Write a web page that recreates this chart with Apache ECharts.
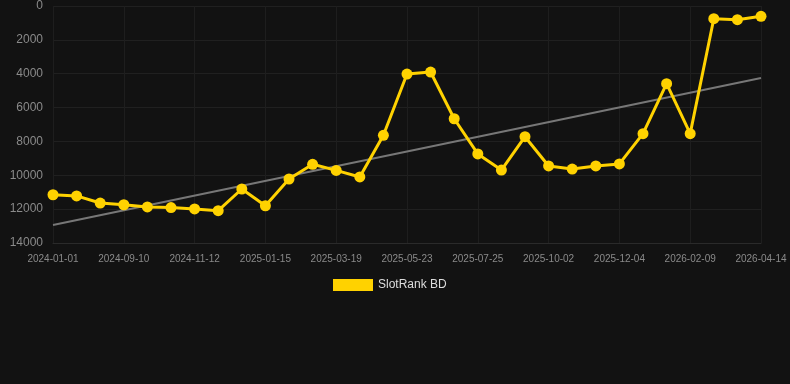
<!DOCTYPE html>
<html>
<head>
<meta charset="utf-8">
<script src="https://cdn.jsdelivr.net/npm/echarts@6/dist/echarts.min.js"></script>
<style>
  html, body { margin: 0; padding: 0; background: #121212; }
  #rank_chart { width: 790px; height: 384px; }
</style>
</head>
<body>
<div id="rank_chart"></div>
<script>
//*************** data ***************
var dates = [
    '2024-01-01', '2024-07-30', '2024-08-20', '2024-09-10', '2024-10-01', '2024-10-22',
    '2024-11-12', '2024-12-03', '2024-12-24', '2025-01-15', '2025-02-05', '2025-02-26',
    '2025-03-19', '2025-04-09', '2025-05-01', '2025-05-23', '2025-06-13', '2025-07-04',
    '2025-07-25', '2025-08-17', '2025-09-09', '2025-10-02', '2025-10-23', '2025-11-13',
    '2025-12-04', '2025-12-26', '2026-01-18', '2026-02-09', '2026-03-01', '2026-03-23',
    '2026-04-14'
];
var rank_values = [
    11150, 11220, 11640, 11740, 11870, 11910, 11990, 12090, 10810, 11800, 10220,
    9350, 9710, 10100, 7640, 4020, 3900, 6660, 8740, 9690, 7720, 9450,
    9630, 9450, 9330, 7540, 4590, 7540, 750, 810, 610
];
// trend line ends
var trend_start = 12940;
var trend_end = 4250;
var y_ticks = { min: 0, max: 14000, step: 2000 };

var trend_values = dates.map(function (d, i) {
    if (i === 0) return trend_start;
    if (i === dates.length - 1) return trend_end;
    return null;
});

//*************** chart ***************
var rank_chart = echarts.init(document.getElementById('rank_chart'));

rank_chart.setOption({
    backgroundColor: '#121212',
    animation: false,
    grid: { left: 53, right: 29, top: 6, bottom: 141 },
    legend: {
        data: [{ name: 'SlotRank BD', icon: 'rect' }],
        top: 274,
        left: 328,
        itemWidth: 40,
        itemHeight: 12,
        itemGap: 10,
        textStyle: { color: '#dddddd', fontSize: 12, fontFamily: 'Liberation Sans, Arial, sans-serif' }
    },
    xAxis: {
        type: 'category',
        boundaryGap: false,
        data: dates,
        axisLine: { onZero: false, lineStyle: { color: '#2a2a2a' } },
        axisTick: { show: false },
        axisLabel: {
            interval: 2,
            color: '#8a8a8a',
            fontSize: 10,
            margin: 11,
            fontFamily: 'Liberation Sans, Arial, sans-serif'
        },
        splitLine: { show: true, interval: 2, lineStyle: { color: '#1e1e1e' } }
    },
    yAxis: {
        type: 'value',
        inverse: true,
        min: y_ticks.min,
        max: y_ticks.max,
        interval: y_ticks.step,
        axisLine: { show: false },
        axisTick: { show: false },
        axisLabel: {
            color: '#8a8a8a',
            fontSize: 12,
            margin: 10,
            formatter: function (v) { return String(v); },
            fontFamily: 'Liberation Sans, Arial, sans-serif'
        },
        splitLine: { lineStyle: { color: '#202020' } }
    },
    series: [
        {
            name: 'SlotRank BD',
            type: 'line',
            data: rank_values,
            symbol: 'circle',
            symbolSize: 11,
            itemStyle: { color: '#ffd200' },
            lineStyle: { color: '#ffd200', width: 3 },
            z: 3
        },
        {
            name: 'trend',
            type: 'line',
            data: trend_values,
            connectNulls: true,
            symbol: 'none',
            lineStyle: { color: '#777777', width: 2 },
            z: 2
        }
    ]
});
</script>
</body>
</html>
